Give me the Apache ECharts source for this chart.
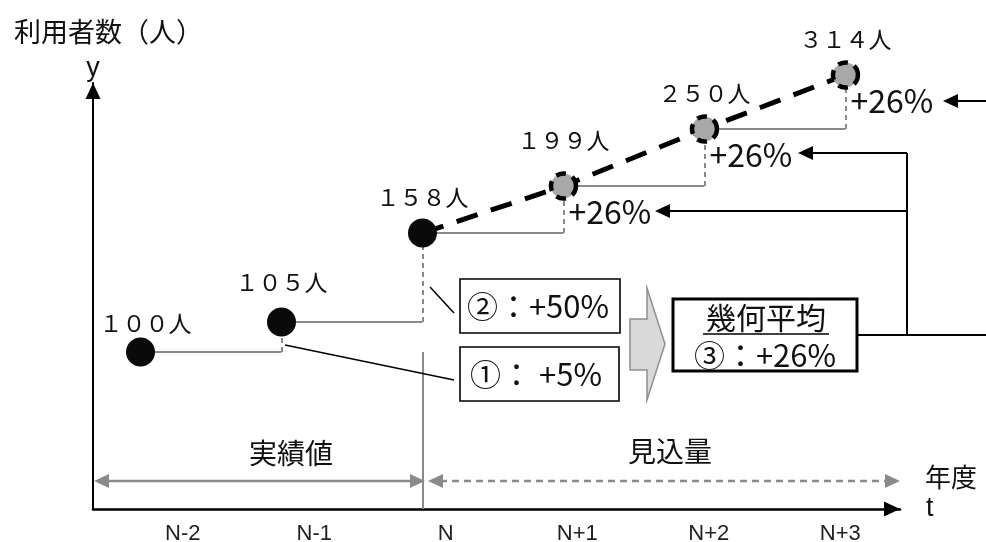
<!DOCTYPE html>
<html><head><meta charset="utf-8">
<script src="https://cdn.jsdelivr.net/npm/echarts@6/dist/echarts.min.js"></script>
<style>html,body{margin:0;padding:0;background:#fff}#c{width:986px;height:542px}</style>
</head><body><div id="c"></div>
<script>
// ---- data ----
const categories = ['N-2', 'N-1', 'N', 'N+1', 'N+2', 'N+3'];
const users = [100, 105, 158, 199, 250, 314];          // 利用者数（人）
const levels = [157, 187, 276, 323, 380, 434];         // schematic heights as drawn in the diagram
const actualCount = 3;                                   // 実績値 N-2..N
const forecastRates = ['+26%', '+26%', '+26%'];          // N+1..N+3
const growthNotes = ['①： +5%', '②：+50%'];
const meanNote = ['幾何平均', '③：+26%'];

// ---- styles ----
const CJK = "'Noto Sans CJK JP', 'Noto Sans', sans-serif";
const LAT = "'Liberation Sans', Arial, sans-serif";
const GRAY = '#8a8a8a';
const labelDx = [5, 0, 0, 0, 0, 0];
const labelDy = [7, -4, 0, -10, 0, 0];

const toFW = s => String(s).replace(/[0-9]/g, d => String.fromCharCode(d.charCodeAt(0) + 0xFEE0));

const pts = levels.map((v, i) => [i, v]);
const stepH = [], stepV = [];
for (let i = 0; i < pts.length - 1; i++) {
  stepH.push({ coords: [[i, levels[i]], [i + 1, levels[i]]] });
  stepV.push({ coords: [[i + 1, levels[i]], [i + 1, levels[i + 1]]] });
}
// separator between 実績値 and 見込量
stepH.push({ coords: [[actualCount - 1, 0], [actualCount - 1, levels[0]]] });

function pointItem(i) {
  return {
    value: pts[i],
    label: { offset: [labelDx[i], -36 + labelDy[i]] }
  };
}

const chart = echarts.init(document.getElementById('c'), null, { renderer: 'canvas' });

function arrowHead(x, y, dir, len, half, color) {
  const bx = dir === 'r' ? x - len : x + len;
  return { type: 'polygon', z: 100, shape: { points: [[x, y], [bx, y - half], [bx, y + half]] }, style: { fill: color, stroke: null } };
}
function hline(x1, x2, y, color, w, dash) {
  return { type: 'line', z: 100, shape: { x1, y1: y, x2, y2: y }, style: { stroke: color, lineWidth: w, lineDash: dash || null } };
}
function seg(x1, y1, x2, y2, color, w) {
  return { type: 'line', z: 100, shape: { x1, y1, x2, y2 }, style: { stroke: color, lineWidth: w } };
}
function txt(x, y, text, size, family, align) {
  return { type: 'text', z: 101, x, y, style: { text, fontSize: size, fontFamily: family, fill: '#111', align: align || 'center', verticalAlign: 'middle' } };
}

const graphics = [
  // 実績値 / 見込量 ranges
  txt(291, 453, '実績値', 28, CJK),
  txt(670, 451, '見込量', 28, CJK),
  hline(104, 416, 481, GRAY, 2.7),
  arrowHead(94, 481, 'l', 15, 7, GRAY),
  arrowHead(425, 481, 'r', 15, 7, GRAY),
  hline(440, 890, 481, GRAY, 2.7, [7, 5]),
  arrowHead(428, 481, 'l', 15, 7, GRAY),
  arrowHead(900, 481, 'r', 15, 7, GRAY),
  txt(951, 477, '年度', 26, CJK),
  // connectors from boxes
  seg(430, 287, 454, 313, '#000', 1.5),
  seg(285, 345, 454, 380, '#000', 1.5),
  // box ②
  { type: 'rect', z: 100, shape: { x: 460, y: 279, width: 160, height: 54 }, style: { fill: '#fff', stroke: '#000', lineWidth: 1.6 } },
  txt(538, 306, growthNotes[1], 31, CJK),
  // box ①
  { type: 'rect', z: 100, shape: { x: 460, y: 347, width: 159, height: 54 }, style: { fill: '#fff', stroke: '#000', lineWidth: 1.6 } },
  txt(536, 374, growthNotes[0], 31, CJK),
  // block arrow
  { type: 'polygon', z: 100, shape: { points: [[630, 319], [647, 319], [647, 288], [665, 344], [647, 400], [647, 370], [630, 370]] }, style: { fill: '#d9d9d9', stroke: '#8f8f8f', lineWidth: 1.5 } },
  // box ③
  { type: 'rect', z: 100, shape: { x: 673, y: 299, width: 184, height: 72 }, style: { fill: '#fff', stroke: '#000', lineWidth: 3 } },
  txt(766, 318, meanNote[0], 30, CJK),
  hline(703, 829, 334, '#000', 1.5),
  txt(765, 355, meanNote[1], 31, CJK),
  // right-side connectors
  hline(857, 986, 335, '#000', 2),
  seg(907, 153, 907, 335, '#000', 2),
  hline(810, 907, 153, '#000', 2),
  arrowHead(798, 153, 'l', 15, 7, '#000'),
  hline(667, 907, 211, '#000', 2),
  arrowHead(655, 211, 'l', 15, 7, '#000'),
  hline(955, 986, 101, '#000', 2),
  arrowHead(943, 101, 'l', 15, 7, '#000')
];

const option = {
  backgroundColor: '#fff',
  animation: false,
  title: { text: '利用者数（人）', left: 9, top: 13, textStyle: { fontSize: 27, fontWeight: 'normal', fontFamily: CJK, color: '#111' } },
  grid: [
    { left: 93, right: 86, top: 83, bottom: 33, outerBoundsMode: 'none', containLabel: false },
    { left: 117, right: 80, top: 83, bottom: 33, outerBoundsMode: 'none', containLabel: false }
  ],
  xAxis: [
    {
      type: 'value', gridIndex: 0, min: -0.337, max: 5.387,
      name: 't', nameLocation: 'end', nameGap: 26,
      nameTextStyle: { fontSize: 27, fontFamily: LAT, color: '#111', padding: [12, 0, 0, 0], verticalAlign: 'middle' },
      axisLine: { show: true, onZero: false, symbol: ['none', 'triangle'], symbolSize: [15, 16], symbolOffset: [0, -8], lineStyle: { color: '#000', width: 2.6 } },
      axisTick: { show: false }, axisLabel: { show: false }, splitLine: { show: false }
    },
    {
      type: 'category', gridIndex: 1, data: categories, boundaryGap: true,
      axisLine: { show: false }, axisTick: { show: false }, splitLine: { show: false },
      axisLabel: { show: true, margin: 14, fontSize: 22, fontFamily: LAT, color: '#222' }
    }
  ],
  yAxis: [
    {
      type: 'value', gridIndex: 0, min: 0, max: 426,
      name: 'y', nameLocation: 'end', nameGap: 1,
      nameTextStyle: { fontSize: 27, fontFamily: LAT, color: '#111', align: 'center' },
      axisLine: { show: true, onZero: false, symbol: ['none', 'triangle'], symbolSize: [15, 16], symbolOffset: [0, -8], lineStyle: { color: '#000', width: 2 } },
      axisTick: { show: false }, axisLabel: { show: false }, splitLine: { show: false }
    },
    { type: 'value', gridIndex: 1, min: 0, max: 426, show: false }
  ],
  series: [
    {
      name: 'steps', type: 'lines', coordinateSystem: 'cartesian2d', xAxisIndex: 0, yAxisIndex: 0,
      data: stepH, lineStyle: { color: GRAY, width: 2, opacity: 1, curveness: 0 }, z: 2, silent: true
    },
    {
      name: 'risers', type: 'lines', coordinateSystem: 'cartesian2d', xAxisIndex: 0, yAxisIndex: 0,
      data: stepV, lineStyle: { color: GRAY, width: 2, type: [5, 4], opacity: 1, curveness: 0 }, z: 2, silent: true
    },
    {
      name: 'forecast', type: 'line', xAxisIndex: 0, yAxisIndex: 0, clip: false,
      data: pts.slice(actualCount - 1), symbol: 'none',
      lineStyle: { color: '#000', width: 5, type: [22, 14] }, z: 3
    },
    {
      name: 'actual', type: 'scatter', xAxisIndex: 0, yAxisIndex: 0, clip: false,
      data: users.slice(0, actualCount).map((_, i) => pointItem(i)),
      symbol: 'circle', symbolSize: 29,
      itemStyle: { color: '#0a0a0a', opacity: 1 },
      label: { show: true, position: 'inside', formatter: p => toFW(users[p.dataIndex]) + '人', fontSize: 23, fontFamily: CJK, color: '#111' },
      z: 5
    },
    {
      name: 'projected', type: 'scatter', xAxisIndex: 0, yAxisIndex: 0, clip: false,
      data: users.slice(actualCount).map((_, k) => pointItem(k + actualCount)),
      symbol: 'circle', symbolSize: 25,
      itemStyle: { color: '#a8a8a8', borderColor: '#000', borderWidth: 4.5, borderType: [10, 7], opacity: 1 },
      label: { show: true, position: 'inside', formatter: p => toFW(users[p.dataIndex + actualCount]) + '人', fontSize: 23, fontFamily: CJK, color: '#111' },
      z: 5
    },
    {
      name: 'rates', type: 'scatter', xAxisIndex: 0, yAxisIndex: 0, clip: false,
      data: pts.slice(actualCount), symbol: 'circle', symbolSize: 2,
      itemStyle: { color: '#ffffff', opacity: 1 },
      label: { show: true, position: [6, 27], align: 'left', verticalAlign: 'middle',
        formatter: p => forecastRates[p.dataIndex], fontSize: 32, fontFamily: CJK, fontWeight: 'normal',
        color: '#111', opacity: 1, textBorderWidth: 0, textBorderColor: 'transparent' },
      emphasis: { disabled: true },
      z: 1
    }
  ],
  graphic: { elements: graphics }
};
chart.setOption(option);
</script>
</body></html>
